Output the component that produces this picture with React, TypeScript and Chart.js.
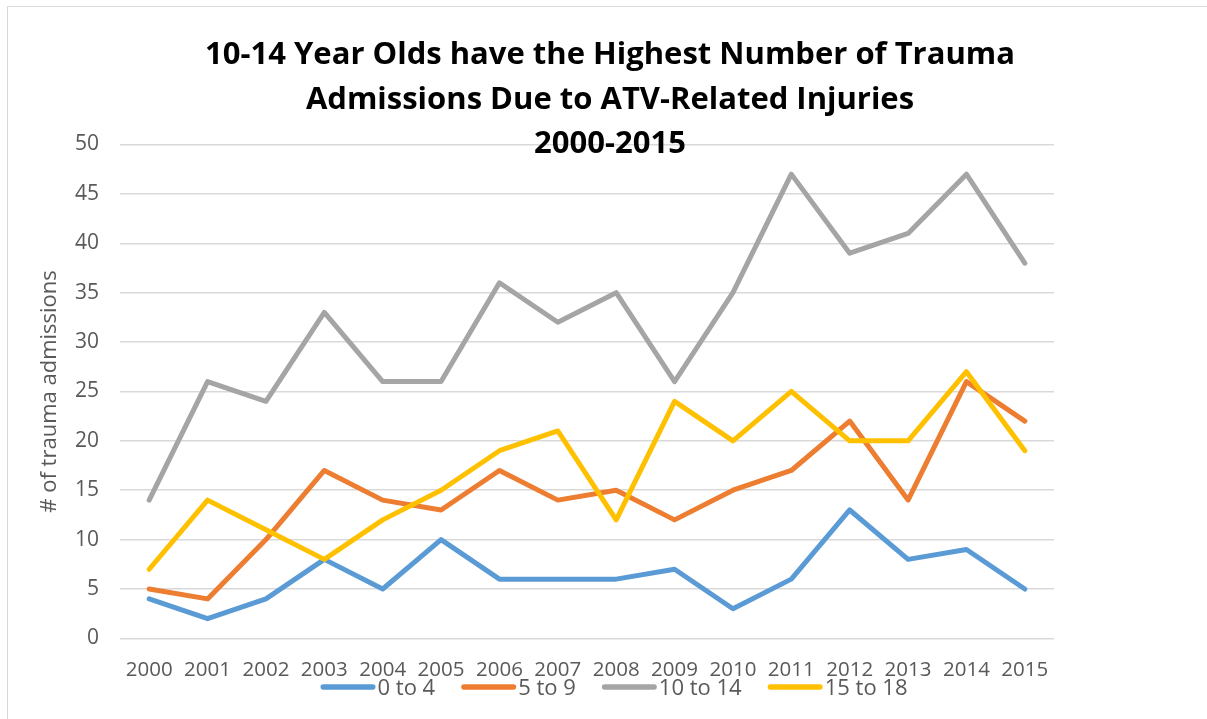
import React, { useEffect, useRef } from "react";
import { Chart, registerables } from "chart.js";

Chart.register(...registerables);

const years = ["2000", "2001", "2002", "2003", "2004", "2005", "2006", "2007", "2008", "2009", "2010", "2011", "2012", "2013", "2014", "2015"];
const age0to4 = [4, 2, 4, 8, 5, 10, 6, 6, 6, 7, 3, 6, 13, 8, 9, 5];
const age5to9 = [5, 4, 10, 17, 14, 13, 17, 14, 15, 12, 15, 17, 22, 14, 26, 22];
const age10to14 = [14, 26, 24, 33, 26, 26, 36, 32, 35, 26, 35, 47, 39, 41, 47, 38];
const age15to18 = [7, 14, 11, 8, 12, 15, 19, 21, 12, 24, 20, 25, 20, 20, 27, 19];
const seriesNames = ["0 to 4", "5 to 9", "10 to 14", "15 to 18"];
const seriesColors = ["#5B9BD5", "#ED7D31", "#A5A5A5", "#FFC000"];
const titleLines = [
  "10-14 Year Olds have the Highest Number of Trauma",
  "Admissions Due to ATV-Related Injuries",
  "2000-2015",
];
const yAxisTitle = "# of trauma admissions";

const FONT = "'Open Sans', 'Noto Sans', sans-serif";
const TEXT_GRAY = "#595959";

export default function App() {
  const canvasRef = useRef<HTMLCanvasElement | null>(null);

  useEffect(() => {
    if (!canvasRef.current) return;
    const seriesValues = [age0to4, age5to9, age10to14, age15to18];

    // Legend drawn below the axis, Excel-style (line sample touching its label)
    const bottomLegend = {
      id: "bottomLegend",
      afterDraw(chart: any) {
        const ctx = chart.ctx;
        const sample = 55;
        const gapText = 2;
        const gapItem = 26;
        const baseline = 695;
        const lineY = 687;
        ctx.save();
        ctx.font = `22px ${FONT}`;
        ctx.textBaseline = "alphabetic";
        ctx.textAlign = "left";
        const items = chart.data.datasets.map((ds: any) => ({
          label: ds.label as string,
          color: ds.borderColor as string,
          w: ctx.measureText(ds.label).width,
        }));
        const total = items.reduce((s: number, it: any) => s + sample + gapText + it.w, 0) + gapItem * (items.length - 1);
        const centerX = (chart.chartArea.left + chart.chartArea.right) / 2 + 27;
        let x = centerX - total / 2;
        items.forEach((it: any) => {
          ctx.strokeStyle = it.color;
          ctx.lineWidth = 5.5;
          ctx.lineCap = "round";
          ctx.beginPath();
          ctx.moveTo(x + 2.75, lineY);
          ctx.lineTo(x + sample - 2.75, lineY);
          ctx.stroke();
          x += sample + gapText;
          ctx.fillStyle = TEXT_GRAY;
          ctx.fillText(it.label, x, baseline);
          x += it.w + gapItem;
        });
        ctx.restore();
      },
    };

    const chart = new Chart(canvasRef.current, {
      type: "line",
      data: {
        labels: years,
        datasets: seriesNames.map((name, i) => ({
          label: name,
          data: seriesValues[i],
          borderColor: seriesColors[i],
          backgroundColor: seriesColors[i],
          borderWidth: 5,
          pointRadius: 0,
          pointHoverRadius: 0,
          tension: 0,
          borderCapStyle: "round" as const,
          borderJoinStyle: "round" as const,
          order: 3 - i,
        })),
      },
      options: {
        responsive: false,
        animation: false,
        layout: { padding: { left: 34, right: 153, top: 144.5, bottom: 18 } },
        plugins: {
          title: { display: false },
          tooltip: { enabled: false },
          legend: { display: false },
        },
        scales: {
          x: {
            offset: true,
            grid: { display: false, drawTicks: false },
            border: { display: false },
            ticks: {
              color: TEXT_GRAY,
              font: { family: FONT, size: 20.5 },
              padding: 19,
              maxRotation: 0,
              autoSkip: false,
            },
          },
          y: {
            min: 0,
            max: 50,
            grid: { color: "#D9D9D9", lineWidth: 1.5, drawTicks: false },
            border: { display: false },
            ticks: {
              stepSize: 5,
              color: TEXT_GRAY,
              font: { family: FONT, size: 21 },
              padding: 21,
            },
            title: {
              display: true,
              text: yAxisTitle,
              color: TEXT_GRAY,
              font: { family: FONT, size: 22 },
              padding: { top: 3, bottom: 0 },
            },
            afterFit: (scale: any) => {
              scale.width = 86;
            },
          },
        },
      },
      plugins: [bottomLegend],
    });
    return () => chart.destroy();
  }, []);

  return (
    <div style={{ position: "fixed", left: 0, top: 0, width: 1207, height: 719, background: "#fff", overflow: "hidden" }}>
      <div
        style={{
          position: "absolute",
          left: 7,
          top: 6,
          width: 1220,
          height: 740,
          borderLeft: "1.5px solid #D9D9D9",
          borderTop: "1.5px solid #D9D9D9",
          boxSizing: "border-box",
        }}
      />
      <canvas ref={canvasRef} width={1207} height={719} style={{ position: "absolute", left: 0, top: 0 }} />
      <div
        style={{
          position: "absolute",
          left: 160,
          width: 900,
          top: 30,
          textAlign: "center",
          fontFamily: FONT,
          fontWeight: 700,
          fontSize: 31,
          lineHeight: "44.5px",
          color: "#000",
          pointerEvents: "none",
        }}
      >
        {titleLines.map((t, i) => (
          <div key={i} style={{ whiteSpace: "nowrap" }}>{t}</div>
        ))}
      </div>
    </div>
  );
}
